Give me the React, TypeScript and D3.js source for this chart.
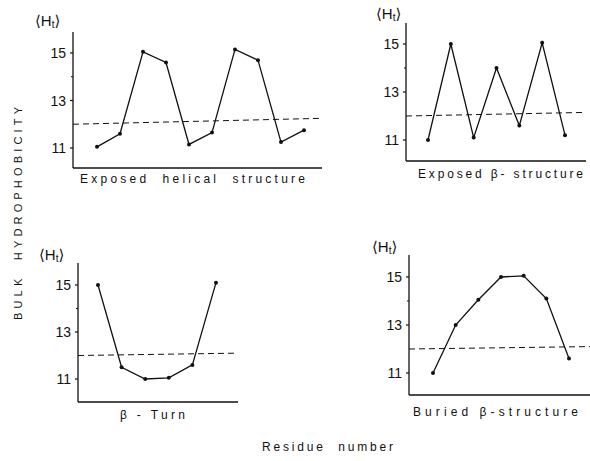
import React, { useEffect, useRef } from "react";
import * as d3 from "d3";

// values (residue 1..n)
const helicalValues = [11.05, 11.6, 15.05, 14.6, 11.15, 11.65, 15.15, 14.7, 11.25, 11.75];
const exposedBetaValues = [11.0, 15.0, 11.1, 14.0, 11.6, 15.05, 11.2];
const turnValues = [15.0, 11.5, 11.0, 11.05, 11.6, 15.1];
const buriedBetaValues = [11.0, 13.0, 14.05, 15.0, 15.05, 14.1, 11.6];

// dashed reference line (start, end) — slightly tilted in the scan
const helicalMean = [12.0, 12.25];
const exposedBetaMean = [12.0, 12.15];
const turnMean = [12.0, 12.1];
const buriedBetaMean = [12.0, 12.1];

const majorTicks = [11, 13, 15];
const minorTicks = [14];

const panelTitles = [
  "Exposed  helical  structure",
  "Exposed β- structure",
  "β - Turn",
  "Buried β-structure",
];

const FONT = "'Liberation Sans', 'DejaVu Sans', sans-serif";

const App = () => {
  const ref = useRef<SVGSVGElement>(null);

  useEffect(() => {
    const svg = d3.select(ref.current);
    svg.selectAll("*").remove();

    const panels = [
      { values: helicalValues, mean: helicalMean, title: panelTitles[0],
        axisX: 73, top: 32, bottom: 168, y11: 148, y15: 53, first: 97, last: 304, end: 322,
        titleX: [80, 305], titleY: 183, labelX: 35, labelY: 26 },
      { values: exposedBetaValues, mean: exposedBetaMean, title: panelTitles[1],
        axisX: 406, top: 23, bottom: 161, y11: 140, y15: 44, first: 428, last: 565, end: 586,
        titleX: [418, 583], titleY: 178, labelX: 376, labelY: 19 },
      { values: turnValues, mean: turnMean, title: panelTitles[2],
        axisX: 78, top: 263, bottom: 402, y11: 379, y15: 285, first: 98, last: 216, end: 238,
        titleX: [120, 185], titleY: 419, labelX: 39, labelY: 260 },
      { values: buriedBetaValues, mean: buriedBetaMean, title: panelTitles[3],
        axisX: 409, top: 255, bottom: 395, y11: 373, y15: 277, first: 433, last: 569, end: 590,
        titleX: [413, 578], titleY: 416, labelX: 372, labelY: 252 },
    ];

    panels.forEach((p) => {
      const g = svg.append("g");
      const y = d3.scaleLinear().domain([11, 15]).range([p.y11, p.y15]);
      const x = d3.scaleLinear().domain([1, p.values.length]).range([p.first, p.last]);

      // axes
      g.append("line")
        .attr("x1", p.axisX).attr("x2", p.axisX)
        .attr("y1", p.top).attr("y2", p.bottom)
        .attr("stroke", "#111").attr("stroke-width", 1.3);
      g.append("line")
        .attr("x1", p.axisX).attr("x2", p.end)
        .attr("y1", p.bottom).attr("y2", p.bottom)
        .attr("stroke", "#111").attr("stroke-width", 1.3);

      // ticks
      majorTicks.forEach((t) => {
        g.append("line")
          .attr("x1", p.axisX - 3).attr("x2", p.axisX)
          .attr("y1", y(t)).attr("y2", y(t))
          .attr("stroke", "#111").attr("stroke-width", 1.2);
        g.append("text")
          .attr("x", p.axisX - 7).attr("y", y(t) + 5)
          .attr("text-anchor", "end")
          .attr("font-family", FONT)
          .attr("font-size", 14)
          .attr("fill", "#111")
          .text(t);
      });
      minorTicks.forEach((t) => {
        g.append("line")
          .attr("x1", p.axisX - 2).attr("x2", p.axisX)
          .attr("y1", y(t)).attr("y2", y(t))
          .attr("stroke", "#111").attr("stroke-width", 1);
      });

      // dashed mean line
      g.append("line")
        .attr("x1", p.axisX).attr("x2", p.end)
        .attr("y1", y(p.mean[0])).attr("y2", y(p.mean[1]))
        .attr("stroke", "#111").attr("stroke-width", 1)
        .attr("stroke-dasharray", "6,4");

      // data line + dots
      const line = d3.line<number>().x((_, i) => x(i + 1)).y((d) => y(d));
      g.append("path")
        .attr("d", line(p.values))
        .attr("fill", "none")
        .attr("stroke", "#111")
        .attr("stroke-width", 1.3);
      g.selectAll("circle")
        .data(p.values)
        .enter().append("circle")
        .attr("cx", (_, i) => x(i + 1))
        .attr("cy", (d) => y(d))
        .attr("r", 2)
        .attr("fill", "#111");

      // <Ht> label
      const lab = g.append("text")
        .attr("x", p.labelX).attr("y", p.labelY)
        .attr("font-family", FONT)
        .attr("font-size", 15)
        .attr("fill", "#111");
      lab.append("tspan").text("⟨H");
      lab.append("tspan").attr("font-size", 10).attr("dy", 2).text("t");
      lab.append("tspan").attr("dy", -2).text("⟩");

      // panel title
      g.append("text")
        .attr("x", p.titleX[0]).attr("y", p.titleY)
        .attr("font-family", FONT)
        .attr("font-size", 12)
        .attr("fill", "#111")
        .style("white-space", "pre")
        .attr("textLength", p.titleX[1] - p.titleX[0])
        .attr("lengthAdjust", "spacing")
        .text(p.title);
    });

    // shared axis titles
    svg.append("text")
      .attr("transform", "translate(22,320) rotate(-90)")
      .attr("font-family", FONT)
      .attr("font-size", 11)
      .attr("fill", "#111")
      .style("white-space", "pre")
      .attr("textLength", 213)
      .attr("lengthAdjust", "spacing")
      .text("BULK  HYDROPHOBICITY");
    svg.append("text")
      .attr("x", 262).attr("y", 451)
      .attr("font-family", FONT)
      .attr("font-size", 12)
      .attr("fill", "#111")
      .style("white-space", "pre")
      .attr("textLength", 131)
      .attr("lengthAdjust", "spacing")
      .text("Residue  number");
  }, []);

  return (
    <svg
      ref={ref}
      width={590}
      height={461}
      style={{ position: "absolute", left: 0, top: 0, background: "#fff" }}
    />
  );
};

export default App;
